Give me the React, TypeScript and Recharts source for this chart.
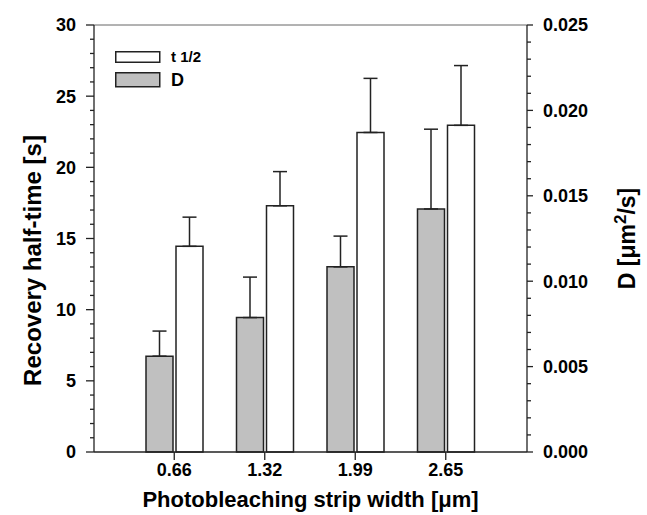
import { Bar, BarChart, ErrorBar, Legend, ReferenceLine, XAxis, YAxis } from "recharts"

// strip widths [µm]
const widths = ["0.66", "1.32", "1.99", "2.65"]
// recovery half-time t 1/2 [s] and its SD (upper only)
const halfTime = [14.45, 17.3, 22.45, 22.95]
const halfTimeErr = [2.05, 2.4, 3.8, 4.2]
// diffusion coefficient D [µm²/s] and its SD
const diffusion = [0.00561, 0.00787, 0.01084, 0.01423]
const diffusionErr = [0.00147, 0.00237, 0.0018, 0.00467]

// minor ticks every 1 s / every 0.001, labels on every 5th
const leftTicks = Array.from({ length: 31 }, (_, i) => i)
const rightTicks = Array.from({ length: 26 }, (_, i) => i / 1000)

const FONT = "'Liberation Sans', Arial, sans-serif"
const INK = "#222"

const data = widths.map((w, i) => ({
  name: w,
  t: halfTime[i],
  tErr: [0, halfTimeErr[i]],
  d: diffusion[i],
  dErr: [0, diffusionErr[i]],
}))

function LeftTick({ x, y, payload, index }: any) {
  const axisX = x + 8 + 10
  const major = index % 5 === 0
  return (
    <g>
      <line x1={axisX - (major ? 8 : 4)} x2={axisX} y1={y} y2={y} stroke={INK} strokeWidth={1.3} />
      {major && (
        <text x={axisX - 18} y={y} dy="0.36em" textAnchor="end" fontSize={18} fontWeight="bold" fontFamily={FONT} fill="#000">
          {payload.value}
        </text>
      )}
    </g>
  )
}

function RightTick({ x, y, payload, index }: any) {
  const axisX = x - 6 - 10
  const major = index % 5 === 0
  return (
    <g>
      <line x1={axisX} x2={axisX + (major ? 6 : 4)} y1={y} y2={y} stroke={INK} strokeWidth={1.3} />
      {major && (
        <text x={axisX + 16} y={y} dy="0.36em" textAnchor="start" fontSize={18} fontWeight="bold" fontFamily={FONT} fill="#000">
          {Number(payload.value).toFixed(3)}
        </text>
      )}
    </g>
  )
}

function LegendBox() {
  return (
    <svg width={130} height={44} style={{ display: "block", overflow: "visible" }}>
      <rect x={0.75} y={0.75} width={44} height={10.5} fill="#fff" stroke={INK} strokeWidth={1.5} />
      <text x={56} y={11} fontSize={15} fontWeight="bold" fontFamily={FONT}>t 1/2</text>
      <rect x={0.75} y={21.75} width={44} height={14} fill="#c0c0c0" stroke={INK} strokeWidth={1.5} />
      <text x={56} y={35} fontSize={18} fontWeight="bold" fontFamily={FONT}>D</text>
    </svg>
  )
}

export default function App() {
  return (
    <div style={{ position: "absolute", left: 0, top: 0, background: "#fff" }}>
      <BarChart
        width={647}
        height={515}
        data={data}
        margin={{ top: 25, right: 50, bottom: 23, left: 34 }}
        barSize={27}
        barGap={3}
      >
        <XAxis
          dataKey="name"
          padding={{ left: 35, right: 36 }}
          height={40}
          tickSize={8}
          tickMargin={3}
          interval={0}
          stroke={INK}
          strokeWidth={1.3}
          tick={{ fontSize: 18, fontWeight: "bold", fill: "#000", fontFamily: FONT }}
          label={{
            content: ({ viewBox }: any) => (
              <text
                x={viewBox.x + viewBox.width / 2}
                y={viewBox.y + 55}
                textAnchor="middle"
                fontSize={22}
                fontWeight="bold"
                fontFamily={FONT}
              >
                Photobleaching strip width [μm]
              </text>
            ),
          }}
        />
        <YAxis
          yAxisId="left"
          orientation="left"
          width={60}
          domain={[0, 30]}
          ticks={leftTicks}
          interval={0}
          tickSize={8}
          tickMargin={10}
          tickLine={false}
          stroke={INK}
          strokeWidth={1.3}
          tick={<LeftTick />}
          label={{
            content: ({ viewBox }: any) => {
              const cx = viewBox.x + 7
              const cy = viewBox.y + viewBox.height / 2 + 22
              return (
                <text x={cx} y={cy} transform={`rotate(-90 ${cx} ${cy})`} textAnchor="middle" fontSize={24} fontWeight="bold" fontFamily={FONT}>
                  Recovery half-time [s]
                </text>
              )
            },
          }}
        />
        <YAxis
          yAxisId="right"
          orientation="right"
          width={70}
          domain={[0, 0.025]}
          ticks={rightTicks}
          interval={0}
          tickSize={6}
          tickMargin={10}
          tickLine={false}
          stroke={INK}
          strokeWidth={1.3}
          tick={<RightTick />}
          label={{
            content: ({ viewBox }: any) => {
              const cx = viewBox.x + viewBox.width + 38
              const cy = viewBox.y + viewBox.height / 2
              return (
                <text x={cx} y={cy} transform={`rotate(-90 ${cx} ${cy})`} textAnchor="middle" fontSize={23} fontWeight="bold" fontFamily={FONT}>
                  D [μm<tspan dy={-9} fontSize={17}>2</tspan><tspan dy={9}>/s]</tspan>
                </text>
              )
            },
          }}
        />
        <ReferenceLine yAxisId="left" y={30} stroke="#666" strokeWidth={1} />
        <Legend
          layout="horizontal"
          verticalAlign="middle"
          align="center"
          wrapperStyle={{ left: 115, top: 51, width: 130, height: 44 }}
          content={<LegendBox />}
        />
        <Bar yAxisId="right" dataKey="d" name="D" fill="#c0c0c0" stroke={INK} strokeWidth={1.5} isAnimationActive={false}>
          <ErrorBar dataKey="dErr" width={7} stroke={INK} strokeWidth={1.5} isAnimationActive={false} />
        </Bar>
        <Bar yAxisId="left" dataKey="t" name="t 1/2" fill="#fff" stroke={INK} strokeWidth={1.5} isAnimationActive={false}>
          <ErrorBar dataKey="tErr" width={7} stroke={INK} strokeWidth={1.5} isAnimationActive={false} />
        </Bar>
      </BarChart>
    </div>
  )
}
